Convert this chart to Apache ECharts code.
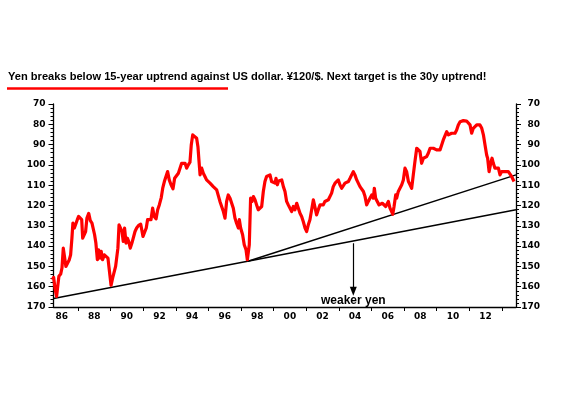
<!DOCTYPE html>
<html>
<head>
<meta charset="utf-8">
<script src="https://cdn.jsdelivr.net/npm/echarts@6/dist/echarts.min.js"></script>
<style>
  html, body { margin: 0; padding: 0; background: #fff; }
  #chart { width: 569px; height: 398px; }
</style>
</head>
<body>
<div id="chart"></div>
<script>
// USD/JPY (x in decimal years, y in yen per dollar)
const usdJpyDates = [
  1986.43, 1986.51, 1986.59, 1986.69, 1986.75, 1986.83, 1986.94, 1987.02, 1987.10, 1987.18,
  1987.26, 1987.37, 1987.47, 1987.55, 1987.63, 1987.69, 1987.78, 1987.86, 1987.96, 1988.04,
  1988.14, 1988.23, 1988.29, 1988.39, 1988.47, 1988.55, 1988.66, 1988.76, 1988.86, 1988.94,
  1989.02, 1989.10, 1989.19, 1989.27, 1989.35, 1989.43, 1989.51, 1989.62, 1989.72, 1989.84,
  1989.92, 1990.03, 1990.13, 1990.23, 1990.31, 1990.39, 1990.45, 1990.52, 1990.62, 1990.70,
  1990.78, 1990.86, 1990.95, 1991.03, 1991.11, 1991.21, 1991.31, 1991.42, 1991.50, 1991.60,
  1991.72, 1991.85, 1991.93, 1991.99, 1992.09, 1992.19, 1992.27, 1992.38, 1992.48, 1992.58,
  1992.68, 1992.79, 1992.89, 1992.99, 1993.11, 1993.20, 1993.30, 1993.40, 1993.50, 1993.60,
  1993.71, 1993.83, 1993.93, 1994.03, 1994.16, 1994.26, 1994.36, 1994.46, 1994.57, 1994.67,
  1994.77, 1994.87, 1994.95, 1995.04, 1995.16, 1995.28, 1995.36, 1995.42, 1995.49, 1995.59,
  1995.69, 1995.79, 1995.89, 1996.00, 1996.10, 1996.20, 1996.30, 1996.41, 1996.51, 1996.61,
  1996.71, 1996.81, 1996.92, 1997.02, 1997.12, 1997.22, 1997.33, 1997.43, 1997.53, 1997.63,
  1997.73, 1997.84, 1997.90, 1997.98, 1998.10, 1998.20, 1998.31, 1998.39, 1998.45, 1998.51,
  1998.59, 1998.68, 1998.76, 1998.86, 1998.96, 1999.06, 1999.17, 1999.27, 1999.37, 1999.47,
  1999.57, 1999.68, 1999.78, 1999.88, 1999.98, 2000.09, 2000.15, 2000.23, 2000.31, 2000.39,
  2000.50, 2000.60, 2000.70, 2000.80, 2000.90, 2001.01, 2001.11, 2001.21, 2001.31, 2001.42,
  2001.52, 2001.62, 2001.72, 2001.82, 2001.93, 2002.03, 2002.13, 2002.23, 2002.34, 2002.44,
  2002.54, 2002.64, 2002.74, 2002.85, 2002.95, 2003.05, 2003.15, 2003.26, 2003.36, 2003.46,
  2003.56, 2003.66, 2003.77, 2003.87, 2003.97, 2004.07, 2004.18, 2004.28, 2004.38, 2004.48,
  2004.59, 2004.69, 2004.79, 2004.89, 2004.99, 2005.10, 2005.20, 2005.30, 2005.40, 2005.51,
  2005.61, 2005.71, 2005.81, 2005.91, 2006.02, 2006.12, 2006.18, 2006.26, 2006.36, 2006.47,
  2006.57, 2006.67, 2006.77, 2006.88, 2006.98, 2007.04, 2007.14, 2007.24, 2007.31, 2007.39,
  2007.49, 2007.55, 2007.65, 2007.75, 2007.86, 2007.96, 2008.06, 2008.16, 2008.27, 2008.37,
  2008.47, 2008.57, 2008.67, 2008.78, 2008.88, 2008.98, 2009.08, 2009.19, 2009.29, 2009.39,
  2009.49, 2009.60, 2009.70, 2009.80, 2009.90, 2010.00, 2010.11, 2010.21, 2010.31, 2010.41,
  2010.52, 2010.62, 2010.72, 2010.82, 2010.92, 2011.03, 2011.13, 2011.23, 2011.33, 2011.44,
  2011.54, 2011.64, 2011.74, 2011.84, 2011.95, 2012.05, 2012.15, 2012.25, 2012.36, 2012.46,
  2012.56, 2012.66, 2012.77, 2012.87, 2012.97, 2013.07, 2013.13, 2013.22, 2013.28, 2013.34,
  2013.40, 2013.48, 2013.58, 2013.69, 2013.79, 2013.89, 2013.99, 2014.09, 2014.20, 2014.30,
  2014.40, 2014.50, 2014.60, 2014.67, 2014.75
];
const usdJpyValues = [
  156.6, 155.4, 160.7, 164.8, 164.3, 154.9, 153.8, 150.8, 141.0, 141.8,
  150.0, 150.8, 146.7, 144.3, 136.1, 128.7, 131.1, 130.3, 127.0, 125.4,
  126.2, 127.0, 136.1, 135.2, 132.8, 126.2, 123.9, 127.5, 128.7, 129.5,
  134.4, 138.5, 146.7, 141.8, 145.9, 142.6, 146.7, 144.3, 145.1, 145.9,
  151.6, 159.3, 155.7, 154.9, 150.0, 149.2, 141.0, 129.5, 129.2, 132.8,
  137.7, 131.1, 138.5, 136.1, 137.7, 141.0, 138.5, 137.7, 132.8, 131.1,
  129.8, 129.2, 129.8, 135.2, 134.4, 131.1, 127.0, 126.2, 127.0, 121.3,
  125.4, 126.6, 122.1, 119.7, 116.1, 111.5, 108.2, 107.4, 103.3, 107.4,
  109.8, 111.8, 106.6, 105.7, 104.1, 103.3, 99.2, 100.0, 99.2, 101.6,
  100.0, 98.7, 90.2, 85.2, 85.2, 86.9, 91.0, 97.5, 104.9, 101.6,
  104.1, 105.7, 107.4, 108.2, 109.0, 109.0, 110.7, 111.5, 112.3, 113.1,
  118.0, 118.9, 123.0, 126.2, 118.0, 114.8, 116.4, 118.9, 121.3, 126.2,
  128.7, 131.1, 127.0, 131.1, 134.4, 139.3, 141.8, 146.7, 145.9, 139.3,
  116.4, 118.0, 115.6, 117.2, 119.7, 122.1, 121.3, 120.5, 113.1, 108.2,
  105.7, 106.6, 104.9, 108.2, 107.4, 109.0, 106.6, 109.8, 107.9, 108.2,
  107.4, 110.7, 113.1, 118.0, 119.7, 118.9, 123.0, 120.5, 122.1, 118.9,
  121.3, 123.8, 125.4, 127.9, 131.1, 132.8, 129.5, 127.0, 126.2, 117.2,
  118.0, 124.6, 122.1, 119.7, 120.5, 119.7, 118.0, 118.9, 117.2, 118.0,
  113.9, 110.7, 109.0, 109.0, 107.4, 109.8, 111.5, 112.3, 109.0, 109.8,
  108.2, 106.6, 104.9, 103.3, 104.9, 107.4, 108.2, 110.7, 111.5, 113.1,
  115.6, 119.7, 118.0, 116.4, 114.8, 116.4, 111.5, 116.4, 118.0, 119.7,
  120.5, 118.9, 119.7, 120.5, 120.5, 118.0, 121.3, 123.0, 124.3, 120.5,
  114.8, 116.4, 113.1, 112.3, 109.8, 107.4, 101.6, 103.3, 108.2, 109.8,
  111.5, 104.9, 98.4, 91.8, 91.8, 93.4, 99.2, 96.7, 96.7, 95.9,
  94.3, 91.8, 91.0, 91.8, 92.6, 92.6, 93.4, 92.6, 90.2, 87.7,
  86.9, 83.6, 85.2, 84.4, 84.4, 83.6, 84.4, 82.8, 80.3, 78.7,
  78.4, 78.2, 78.4, 78.4, 78.7, 80.3, 84.4, 82.0, 81.1, 80.3,
  80.0, 80.3, 82.0, 85.2, 90.2, 95.1, 96.7, 103.3, 103.3, 98.4,
  96.7, 99.2, 101.6, 100.8, 101.6, 104.9, 103.3, 103.3, 103.3, 103.3,
  103.3, 104.1, 105.7, 106.6, 108.2
];

// trend lines [year, yen]
const trend30y = [[1986.5, 165.8], [2014.87, 122.1]];
const trend15y = [[1998.43, 147.5], [2014.87, 104.9]];
const arrowLine = [[2004.89, 138.6], [2004.89, 162.3]];
const arrowText = [2004.89, 166.9];

// axis ticks / labels
const yearTicks = [1988, 1990, 1992, 1994, 1996, 1998, 2000, 2002, 2004, 2006, 2008, 2010, 2012, 2014];
const yearLabels = [1987, 1989, 1991, 1993, 1995, 1997, 1999, 2001, 2003, 2005, 2007, 2009, 2011, 2013];

const titleText = 'Yen breaks below 15-year uptrend against US dollar. \u00a5120/$. Next target is the 30y uptrend!';

const seriesData = usdJpyDates.map((d, i) => [d, usdJpyValues[i]]);

const chart = echarts.init(document.getElementById('chart'), null, { renderer: 'canvas' });

const labelFont = {
  fontFamily: 'DejaVu Sans',
  fontSize: 9,
  fontWeight: 'bold',
  color: '#000',
};

function yAxisCfg(pos) {
  return {
    type: 'value',
    position: pos,
    inverse: true,
    min: 70,
    max: 170,
    interval: 10,
    axisLine: { show: true, lineStyle: { color: '#000', width: 1.3 } },
    axisTick: { show: true, length: 5, lineStyle: { color: '#000', width: 1 } },
    minorTick: { show: true, splitNumber: 5, length: 3, lineStyle: { color: '#000', width: 1 } },
    splitLine: { show: false },
    axisLabel: Object.assign({
      margin: pos == 'left' ? 8 : 24,
      align: 'right',
    }, labelFont),
  };
}

const option = {
  backgroundColor: '#fff',
  animation: false,
  title: {
    text: titleText,
    left: 8,
    top: 71,
    padding: 0,
    textStyle: {
      fontFamily: 'Liberation Sans',
      fontSize: 11.1,
      fontWeight: 'bold',
      color: '#000',
    },
  },
  graphic: [
    {
      type: 'line',
      shape: { x1: 7, y1: 88.5, x2: 228, y2: 88.5 },
      style: { stroke: '#ff0000', lineWidth: 2.4 },
    },
  ],
  grid: {
    left: 53.5,
    right: 53,
    top: 104,
    bottom: 91,
  },
  xAxis: {
    type: 'value',
    min: 1986.5,
    max: 2014.87,
    axisLine: { show: true, onZero: false, lineStyle: { color: '#000', width: 1.3 } },
    axisTick: { show: true, length: 4, customValues: yearTicks, lineStyle: { color: '#000' } },
    splitLine: { show: false },
    axisLabel: Object.assign({
      margin: 5,
      customValues: yearLabels,
      formatter: v => String(Math.round(v) - 1).slice(2),
    }, labelFont),
  },
  yAxis: [yAxisCfg('left'), yAxisCfg('right')],
  series: [
    {
      name: 'USDJPY',
      type: 'line',
      data: seriesData,
      showSymbol: false,
      symbol: 'none',
      lineStyle: { color: '#ff0000', width: 3.2, join: 'round' },
      z: 3,
    },
    {
      name: '30y uptrend',
      type: 'line',
      data: trend30y,
      symbol: 'none',
      lineStyle: { color: '#000', width: 1.5 },
      z: 2,
    },
    {
      name: '15y uptrend',
      type: 'line',
      data: trend15y,
      symbol: 'none',
      lineStyle: { color: '#000', width: 1.5 },
      z: 2,
    },
    {
      name: 'weaker yen',
      type: 'line',
      data: [],
      symbol: 'none',
      markLine: {
        silent: true,
        symbol: ['none', 'triangle'],
        symbolSize: [7, 9],
        symbolRotate: 180,
        lineStyle: { color: '#000', width: 1.2, type: 'solid' },
        label: { show: false },
        data: [[{ coord: arrowLine[0] }, { coord: arrowLine[1] }]],
      },
      markPoint: {
        silent: true,
        symbol: 'circle',
        symbolSize: 0,
        data: [{ coord: arrowText }],
        label: {
          show: true,
          position: 'inside',
          formatter: 'weaker yen',
          fontFamily: 'Liberation Sans',
          fontSize: 12,
          fontWeight: 'bold',
          color: '#000',
        },
      },
      z: 4,
    },
  ],
};

chart.setOption(option);
</script>
</body>
</html>
